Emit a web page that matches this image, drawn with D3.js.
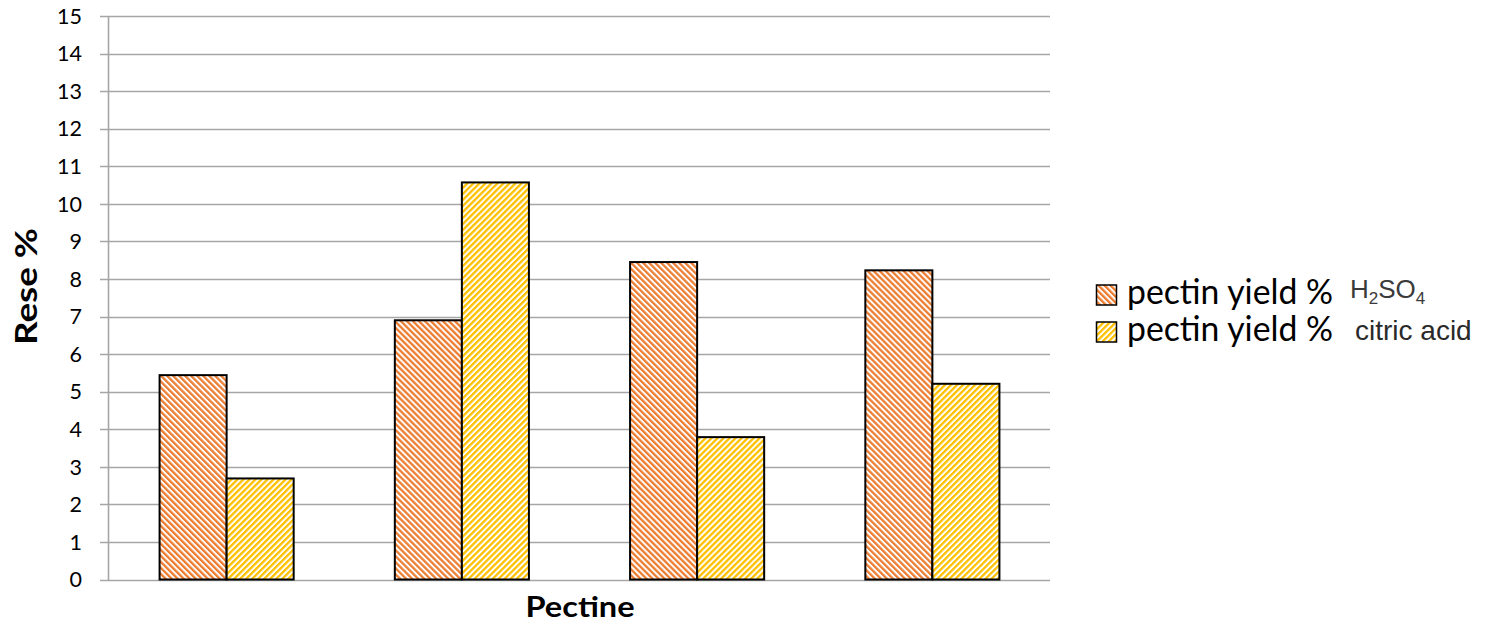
<!DOCTYPE html>
<html>
<head>
<meta charset="utf-8">
<script src="https://cdn.jsdelivr.net/npm/d3@7"></script>
<style>
  html, body { margin: 0; padding: 0; background: #fff; }
  svg { display: block; }
</style>
</head>
<body>
<svg id="chart" width="1494" height="625"></svg>
<script>
const categories = ["1", "2", "3", "4"];
const seriesNames = ["pectin yield %", "pectin yield %"];
const seriesSuffix = ["H2SO4", "citric acid"];
const h2so4Values = [5.44, 6.90, 8.45, 8.23];
const citricValues = [2.69, 10.57, 3.79, 5.21];
const yTicks = d3.range(0, 16, 1);

(function () {
const svg = d3.select("#chart");
const mLeft = 109, mRight = 1050, mTop = 16, mBottom = 579.5;

const pad = 0.43;
const x = d3.scaleBand().domain(categories).range([mLeft, mRight]).paddingInner(pad).paddingOuter(pad / 2);
const xSub = d3.scaleBand().domain([0, 1]).range([0, x.bandwidth()]);
const y = d3.scaleLinear().domain([0, 15]).range([mBottom, mTop]);

// patterns
const defs = svg.append("defs");
const colors = ["#ED7D31", "#FFC000"];
const rot = [-45, 45];
colors.forEach((c, i) => {
  const p = defs.append("pattern")
    .attr("id", "pat" + i)
    .attr("patternUnits", "userSpaceOnUse")
    .attr("width", 4.25).attr("height", 4.25)
    .attr("patternTransform", `rotate(${rot[i]})`);
  p.append("rect").attr("width", 4.25).attr("height", 4.25).attr("fill", "#fff");
  p.append("rect").attr("width", 2.3).attr("height", 4.25).attr("fill", c);
});

// gridlines
const grid = svg.append("g");
grid.selectAll("line").data(yTicks).join("line")
  .attr("x1", mLeft - 9).attr("x2", mRight)
  .attr("y1", d => Math.round(y(d)) + 0.5).attr("y2", d => Math.round(y(d)) + 0.5)
  .attr("stroke", "#A6A6A6").attr("stroke-width", 1.6);

// y axis line
svg.append("line").attr("x1", mLeft - 0.5).attr("x2", mLeft - 0.5)
  .attr("y1", y(15)).attr("y2", y(0) + 1)
  .attr("stroke", "#A6A6A6").attr("stroke-width", 1.6);

// tick labels
svg.append("g").selectAll("text").data(yTicks).join("text")
  .attr("x", 82).attr("y", d => y(d))
  .attr("dy", "0.36em")
  .attr("text-anchor", "end")
  .attr("font-family", "Lato, Carlito, sans-serif")
  .attr("font-size", 21.5)
  .attr("fill", "#000")
  .text(d => d);

// bars
const series = [h2so4Values, citricValues];
series.forEach((vals, si) => {
  svg.append("g").selectAll("rect").data(vals).join("rect")
    .attr("x", (d, i) => x(categories[i]) + xSub(si))
    .attr("width", xSub.bandwidth())
    .attr("y", d => y(d))
    .attr("height", d => y(0) - y(d))
    .attr("fill", `url(#pat${si})`)
    .attr("stroke", "#000")
    .attr("stroke-width", 2);
});

// axis titles
svg.append("text")
  .attr("transform", `translate(37, 286.5) rotate(-90)`)
  .attr("text-anchor", "middle")
  .attr("font-family", "Lato, 'Open Sans', sans-serif")
  .attr("font-weight", "bold")
  .attr("font-size", 31)
  .attr("textLength", 117)
  .attr("lengthAdjust", "spacingAndGlyphs")
  .text("Rese %");

svg.append("text")
  .attr("x", 580).attr("y", 617)
  .attr("text-anchor", "middle")
  .attr("font-family", "Lato, 'Open Sans', sans-serif")
  .attr("font-weight", "bold")
  .attr("font-size", 29)
  .attr("textLength", 109)
  .attr("lengthAdjust", "spacingAndGlyphs")
  .text("Pectine");

// legend
const legBase = [304, 341];
seriesNames.forEach((name, i) => {
  const g = svg.append("g");
  g.append("rect")
    .attr("x", 1096.5).attr("y", legBase[i] - 19)
    .attr("width", 20).attr("height", 20)
    .attr("fill", `url(#pat${i})`)
    .attr("stroke", "#000").attr("stroke-width", 1.5);
  g.append("text")
    .attr("x", 1127).attr("y", legBase[i])
    .attr("font-family", "Lato, Carlito, sans-serif")
    .attr("font-size", 34)
    .attr("textLength", 206)
    .attr("lengthAdjust", "spacingAndGlyphs")
    .text(name);
});
// H2SO4 with subscripts
const h = svg.append("text")
  .attr("x", 1350).attr("y", 298)
  .attr("font-family", "'Liberation Sans', Arial, sans-serif")
  .attr("font-size", 26)
  .attr("fill", "#3a3a3a");
h.append("tspan").text("H");
h.append("tspan").attr("font-size", 17).attr("dy", 6).text("2");
h.append("tspan").attr("dy", -6).text("SO");
h.append("tspan").attr("font-size", 17).attr("dy", 6).text("4");

svg.append("text")
  .attr("x", 1355).attr("y", 340)
  .attr("font-family", "'Liberation Sans', Arial, sans-serif")
  .attr("font-size", 28)
  .attr("fill", "#2a2a2a")
  .text(seriesSuffix[1]);
})();
</script>
</body>
</html>
